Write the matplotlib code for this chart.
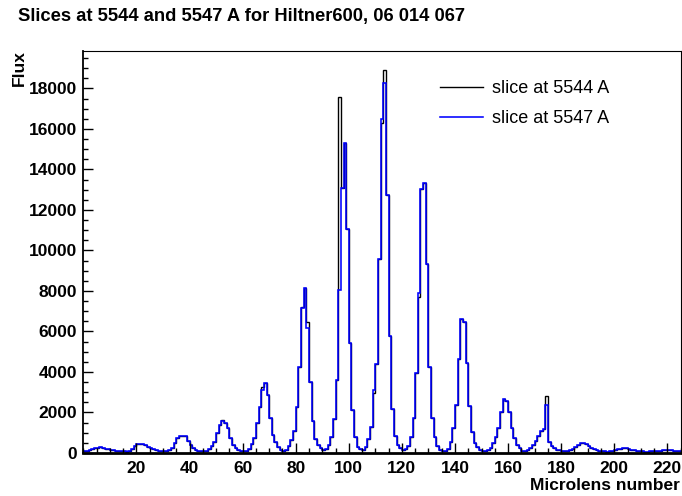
import numpy as np
import matplotlib
matplotlib.use('Agg')
import matplotlib.pyplot as plt
from matplotlib.ticker import MultipleLocator

plt.rcParams['font.family'] = ['Liberation Sans', 'DejaVu Sans']

# flux per microlens (bins 0..224)
slice_5547 = [
    90, 120, 160, 200, 240, 270, 280, 260, 220, 190,
    170, 150, 120, 110, 90, 80, 70, 100, 200, 330,
    440, 460, 440, 380, 300, 240, 190, 140, 100, 80,
    80, 90, 130, 250, 480, 720, 840, 850, 820, 600,
    400, 260, 170, 120, 100, 100, 120, 200, 345, 560,
    1000, 1380, 1600, 1500, 1220, 720, 395, 230, 130, 100,
    80, 100, 200, 440, 760, 1460, 2290, 3110, 3470, 2860,
    1710, 890, 560, 280, 160, 110, 160, 350, 640, 1110,
    2290, 4260, 7150, 8130, 6150, 3520, 1600, 680, 400, 250,
    150, 180, 380, 780, 1660, 3600, 8050, 13070, 15320, 11060,
    5450, 2120, 805, 310, 180, 150, 310, 700, 1300, 3110,
    4390, 9560, 16470, 18250, 12730, 5780, 2160, 840, 395, 230,
    130, 200, 360, 810, 1710, 3930, 7880, 13020, 13340, 9330,
    4230, 1710, 810, 360, 165, 100, 100, 200, 560, 1250,
    2370, 4620, 6600, 6450, 4430, 2340, 1050, 510, 280, 165,
    100, 100, 150, 230, 480, 770, 1220, 2010, 2650, 2570,
    2010, 1220, 720, 395, 230, 100, 100, 150, 230, 395,
    610, 840, 1090, 1170, 2350, 560, 345, 230, 150, 150,
    100, 90, 110, 150, 200, 280, 380, 480, 510, 440,
    350, 260, 190, 140, 110, 90, 80, 70, 80, 100,
    140, 180, 220, 240, 230, 200, 170, 140, 110, 90,
    80, 70, 70, 80, 90, 100, 110, 120, 130, 140,
    140, 130, 110, 90, 100,
]

# the 5544 slice is nearly the same, except at a few bins
slice_5544 = list(slice_5547)
diff_5544 = {52: 1620, 67: 3270, 82: 7200, 84: 6480, 96: 17560,
             109: 2950, 112: 16270, 113: 18900, 126: 7720, 174: 2810}
for b, v in diff_5544.items():
    slice_5544[b] = v

edges = np.arange(len(slice_5547) + 1)

fig = plt.figure(figsize=(6.82, 4.96), dpi=100)
ax = fig.add_axes([83.3 / 682, 1 - 453 / 496, (680.7 - 83.3) / 682, (453 - 51) / 496])

ax.stairs(slice_5544, edges, baseline=None, color='black', lw=1.0, label='slice at 5544 A')
ax.stairs(slice_5547, edges, baseline=None, color='#0000ff', lw=1.15, label='slice at 5547 A')

ax.set_xlim(0, 225)
ax.set_ylim(0, 1.05 * max(slice_5544))

ax.xaxis.set_major_locator(MultipleLocator(20))
ax.xaxis.set_minor_locator(MultipleLocator(5))
ax.yaxis.set_major_locator(MultipleLocator(2000))
ax.yaxis.set_minor_locator(MultipleLocator(500))
ax.set_xticks(np.arange(20, 221, 20))

ax.tick_params(which='both', direction='in', top=False, right=False, width=1)
ax.tick_params(which='major', length=7.2)
ax.tick_params(which='minor', length=3.6)
ax.tick_params(axis='x', pad=6)
ax.tick_params(axis='y', pad=4.5)
for lab in ax.get_xticklabels() + ax.get_yticklabels():
    lab.set_fontweight('bold')
    lab.set_fontsize(12.5)

ax.spines['bottom'].set_linewidth(2)
ax.spines['left'].set_linewidth(1.3)
ax.spines['top'].set_linewidth(0.8)
ax.spines['right'].set_linewidth(0.8)

ax.legend(loc='upper left', bbox_to_anchor=(440 / 682, 1 - 80 / 496),
          bbox_transform=fig.transFigure, frameon=False, fontsize=13,
          handlelength=2.4, handletextpad=0.5, labelspacing=0.72,
          borderpad=0, borderaxespad=0)

fig.text(18 / 682, 1 - 17 / 496, 'Slices at 5544 and 5547 A for Hiltner600, 06 014 067',
         fontsize=13.2, fontweight='bold', va='center', ha='left')
fig.text(19 / 682, 1 - 50 / 496, 'Flux', rotation=90, fontsize=12.5,
         fontweight='bold', ha='center', va='top')
fig.text(680 / 682, 1 - 485 / 496, 'Microlens number', fontsize=12.5,
         fontweight='bold', ha='right', va='center')

plt.savefig('out.png', dpi=100)
